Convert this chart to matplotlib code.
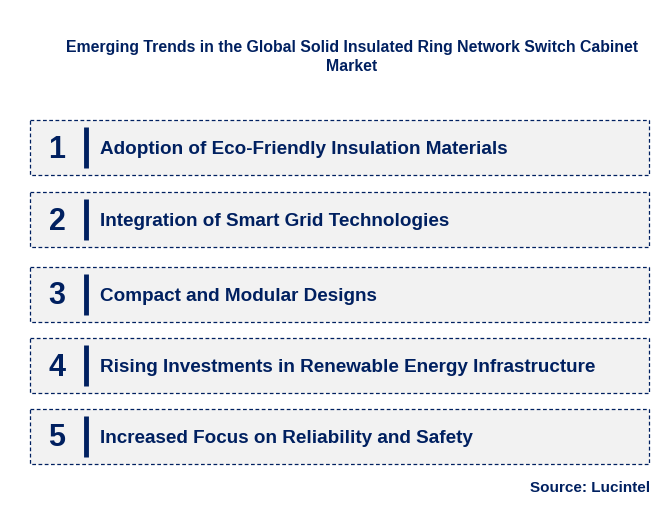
import matplotlib
matplotlib.use('Agg')
import matplotlib.pyplot as plt
from matplotlib.patches import Rectangle

title = "Emerging Trends in the Global Solid Insulated Ring Network Switch Cabinet\nMarket"
numbers = ["1", "2", "3", "4", "5"]
trends = [
    "Adoption of Eco-Friendly Insulation Materials",
    "Integration of Smart Grid Technologies",
    "Compact and Modular Designs",
    "Rising Investments in Renewable Energy Infrastructure",
    "Increased Focus on Reliability and Safety",
]
box_tops = [120, 192, 267, 338, 409]

navy = "#002060"
W, H = 669, 517
fig = plt.figure(figsize=(W / 100, H / 100), dpi=100)
ax = fig.add_axes([0, 0, 1, 1])
ax.set_xlim(0, W)
ax.set_ylim(H, 0)
ax.axis('off')

ax.text(352, 57, title, ha='center', va='center', fontsize=11.4, fontweight='bold',
        color=navy, family='Liberation Sans', linespacing=1.4)

for num, label, top in zip(numbers, trends, box_tops):
    h = 55
    ax.add_patch(Rectangle((30, top), 619, h, facecolor='#f2f2f2', edgecolor=navy,
                           linewidth=0.9, linestyle=(0, (3, 2))))
    ax.plot([86, 86], [top + 7, top + h - 7], color=navy, linewidth=3.5, solid_capstyle='butt')
    ax.text(57, top + h / 2 + 2, num, ha='center', va='center', fontsize=22, fontweight='bold',
            color=navy, family='Liberation Sans')
    ax.text(100, top + h / 2 + 2, label, ha='left', va='center', fontsize=13.6, fontweight='bold',
            color=navy, family='Liberation Sans')

ax.text(650, 488, "Source: Lucintel", ha='right', va='center', fontsize=11, fontweight='bold',
        color=navy, family='Liberation Sans')

fig.savefig('out.png', dpi=100)
